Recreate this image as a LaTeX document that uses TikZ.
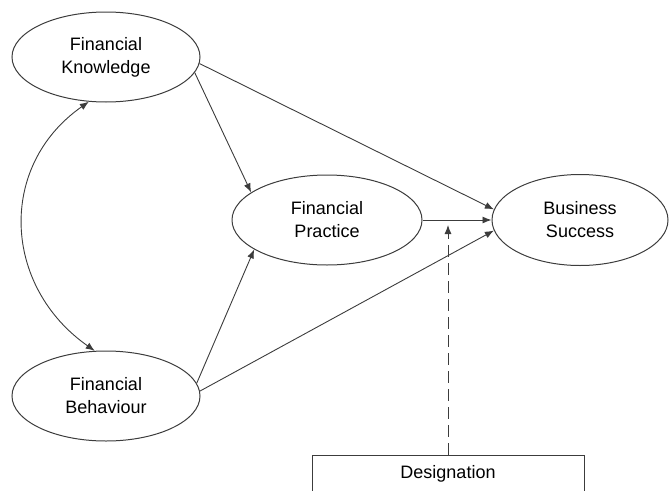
\documentclass[tikz,border=0pt]{standalone}
\usepackage{fontspec}
\setmainfont{Liberation Sans}
\usetikzlibrary{shapes.geometric,arrows.meta}

\begin{document}
\begin{tikzpicture}[x=1pt,y=-1pt,font=\fontsize{18}{23}\selectfont,
  latent/.style={ellipse,draw=linegray,line width=1pt,align=center,inner sep=0pt,
    minimum width=188pt,minimum height=90pt},
  effect/.style={draw=linegray,line width=0.9pt,-{Latex[length=9pt,width=7pt]}},
  moderator/.style={effect,dash pattern=on 12pt off 6pt,shorten >=5pt}]
  \definecolor{linegray}{HTML}{3C3C3C}
  \useasboundingbox (0,0) rectangle (671,490);
  \clip (0,0) rectangle (671,490);

  % constructs
  \node[latent] (know) at (106,57) {Financial\\Knowledge};
  \node[latent] (behav) at (106,396) {Financial\\Behaviour};
  \node[latent,minimum width=190pt] (pract) at (327,220) {Financial\\Practice};
  \node[latent,minimum width=176pt,minimum height=91pt] (succ) at (580,220) {Business\\Success};
  \node[draw=linegray,line width=0.9pt,anchor=base,minimum width=272pt,
    text height=14pt,text depth=40pt,inner ysep=9pt] (desig) at (448,478) {Designation};
  \coordinate (modpt) at (448,220);

  % paths
  \draw[effect] (know.-4) -- (succ.173);
  \draw[effect] (know.-10) -- (pract.160);
  \draw[effect] (behav.8) -- (pract.202);
  \draw[effect] (behav.3) -- (succ.187);
  \draw[effect] (pract.east) -- (succ.west);
  \draw[moderator] (desig.north) -- (modpt);

  % covariance
  \draw[effect,{Latex[length=9pt,width=7pt]}-{Latex[length=9pt,width=7pt]}]
    (know.249) to[out=215,in=145,looseness=1.15] (behav.104);
\end{tikzpicture}
\end{document}
